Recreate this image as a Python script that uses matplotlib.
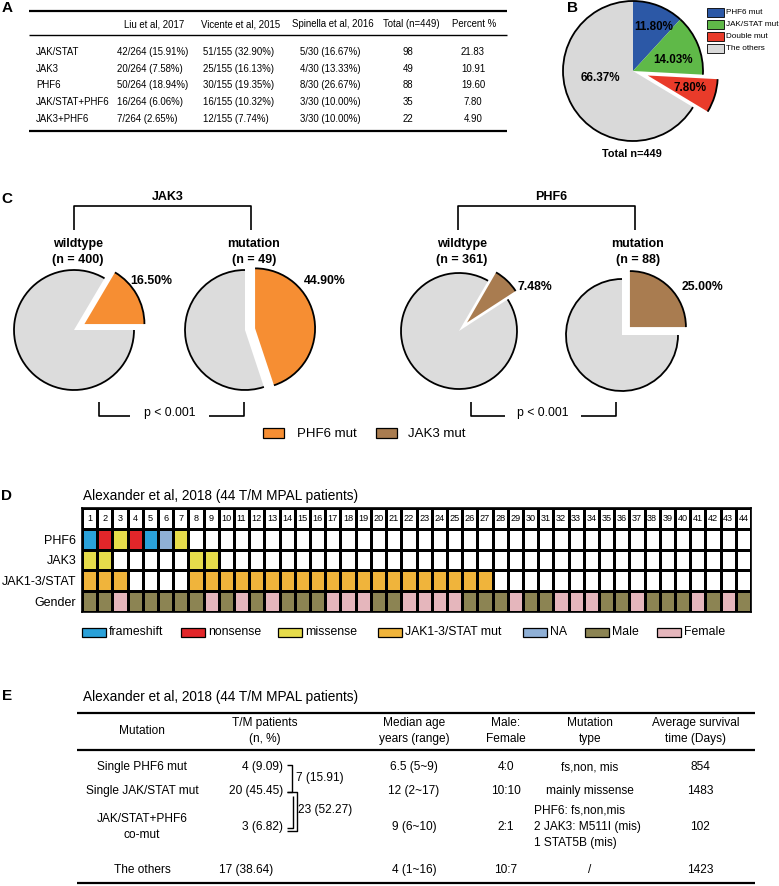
import numpy as np
import matplotlib.pyplot as plt
from matplotlib.patches import Rectangle, Arc
from matplotlib.colors import ListedColormap

plt.rcParams['font.family'] = ['Liberation Sans', 'DejaVu Sans']

# ---- data ----
# panel A
a_studies = ['Liu et al, 2017', 'Vicente et al, 2015', 'Spinella et al, 2016']
a_study_n = [264, 155, 30]
a_rows = ['JAK/STAT', 'JAK3', 'PHF6', 'JAK/STAT+PHF6', 'JAK3+PHF6']
liu = [42, 20, 50, 16, 7]
vicente = [51, 25, 30, 16, 12]
spinella = [5, 4, 8, 3, 3]
a_total_n = 449

# panel B
b_labels = ['PHF6 mut', 'JAK/STAT mut', 'Double mut', 'The others']
b_values = [11.80, 14.03, 7.80, 66.37]
b_colors = ['#2c58a6', '#5fb948', '#e93b2a', '#d9d9d9']

# panel C
c_groups = ['JAK3', 'PHF6']
c_n_wt = [400, 361]
c_n_mut = [49, 88]
c_pct_wt = [16.50, 7.48]
c_pct_mut = [44.90, 25.00]
c_colors = ['#f68e33', '#a97c50']
c_legend = ['PHF6 mut', 'JAK3 mut']
c_pvalue = 'p < 0.001'

# panel D
n_pat = 44
phf6_mut = {1: 'frameshift', 2: 'nonsense', 3: 'missense', 4: 'nonsense',
            5: 'frameshift', 6: 'NA', 7: 'missense'}
jak3_mut = {1: 'missense', 2: 'missense', 8: 'missense', 9: 'missense'}
jakstat_mut = [1, 2, 3, 8, 9, 10, 11, 12, 13, 14, 15, 16, 17, 18, 19, 20,
               21, 22, 23, 24, 25, 26, 27]
gender = 'MMFMMMMMFMFMFMMMFFFMMFFFFMMMFMMFFFMMFMMMFMFM'
d_cats = ['none', 'frameshift', 'nonsense', 'missense', 'JAK1-3/STAT mut',
          'NA', 'Male', 'Female']
d_colors = ['white', '#2aa1d9', '#e2262a', '#e6dc4b', '#f0b43b',
            '#8fb0d6', '#8c8453', '#e5b6bc']
d_rowlabels = ['PHF6', 'JAK3', 'JAK1-3/STAT', 'Gender']

# panel E
e_title = 'Alexander et al, 2018 (44 T/M MPAL patients)'
e_mutation = ['Single PHF6 mut', 'Single JAK/STAT mut', 'JAK/STAT+PHF6\nco-mut', 'The others']
e_patients = ['4 (9.09)', '20 (45.45)', '3 (6.82)', '17 (38.64)']
e_age = ['6.5 (5~9)', '12 (2~17)', '9 (6~10)', '4 (1~16)']
e_sex = ['4:0', '10:10', '2:1', '10:7']
e_type = ['fs,non, mis', 'mainly missense',
          'PHF6: fs,non,mis\n2 JAK3: M511I (mis)\n1 STAT5B (mis)', '/']
e_survival = ['854', '1483', '102', '1423']
e_groups = ['7 (15.91)', '23 (52.27)']

W, H = 779, 886
fig = plt.figure(figsize=(W / 100, H / 100), dpi=100)
ax = fig.add_axes([0, 0, 1, 1])
ax.set_xlim(0, W)
ax.set_ylim(H, 0)
ax.axis('off')


def line(xs, ys, lw=1.0):
    ax.plot(xs, ys, color='black', lw=lw, solid_capstyle='butt')


def pie_axes(cx, cy, r, pad=1.7):
    s = r * pad
    pa = fig.add_axes([(cx - s) / W, 1 - (cy + s) / H, 2 * s / W, 2 * s / H])
    return pa, pad


def outlined_pie(pa, pad, values, colors, **kw):
    wedges, _ = pa.pie(values, colors=colors, radius=1,
                       wedgeprops=dict(linewidth=0), **kw)
    for w in wedges:
        pa.add_patch(Arc(w.center, 2 * w.r, 2 * w.r, theta1=w.theta1,
                         theta2=w.theta2, color='black', lw=1.3))
    pa.set_xlim(-pad, pad)
    pa.set_ylim(-pad, pad)
    pa.axis('off')


# panel letters
for lab, x, y in [('A', 7, 8), ('B', 573, 8), ('C', 7, 199), ('D', 7, 496), ('E', 7, 696)]:
    ax.text(x, y, lab, fontsize=11, fontweight='bold', va='center', ha='center')

# ---- A: table ----
fs_a = 6.9
line([29, 507], [11, 11], 1.6)
line([29, 507], [35, 35], 1.0)
line([29, 507], [131, 131], 1.6)
heads = a_studies + ['Total (n=%d)' % a_total_n, 'Percent %']
for h, x in zip(heads, [154, 241, 333, 411, 474]):
    ax.text(x, 24, h, fontsize=fs_a, ha='center', va='center')
for i, name in enumerate(a_rows):
    y = 52 + i * 16.7
    ax.text(36, y, name, fontsize=fs_a, va='center')
    for vals, n, x in zip([liu, vicente, spinella], a_study_n, [117, 203, 300]):
        ax.text(x, y, '%d/%d (%.2f%%)' % (vals[i], n, vals[i] / n * 100),
                fontsize=fs_a, va='center')
    tot = liu[i] + vicente[i] + spinella[i]
    ax.text(408, y, str(tot), fontsize=fs_a, ha='center', va='center')
    ax.text(473, y, '%.2f' % (tot / a_total_n * 100), fontsize=fs_a, ha='center', va='center')

# ---- B: pie ----
pb, pad = pie_axes(633, 71, 70)
outlined_pie(pb, pad, b_values, b_colors, startangle=90, counterclock=False,
             explode=[0, 0, 0.22, 0])
for v, (tx, ty) in zip(b_values, [(0.30, 0.63), (0.57, 0.16), (0.81, -0.24), (-0.47, -0.10)]):
    pb.text(tx, ty, '%.2f%%' % v, fontsize=8.4, fontweight='bold', ha='center', va='center')
ax.text(632, 154, 'Total n=%d' % a_total_n, fontsize=7.8, fontweight='bold',
        ha='center', va='center')
for i, (lab, col) in enumerate(zip(b_labels, b_colors)):
    y = 12 + i * 12.3
    ax.add_patch(Rectangle((707, y - 4.5), 17, 9, facecolor=col, edgecolor='black', lw=0.6))
    ax.text(726, y, lab, fontsize=5.9, va='center')

# ---- C: pies ----
gray = '#dcdcdc'
c_geo = [  # (cx, cy, r) per pie: wildtype, mutation
    [(74, 330, 60), (245, 330, 60)],
    [(459, 331, 58), (622, 335, 56)],
]
c_bracket = [(74, 251), (458, 635)]
c_pbr = [(99, 130, 209, 244), (471, 505, 581, 616)]
c_start = [(0, 90), (33, 0)]
c_ccw = [(True, False), (True, True)]
c_explode = [(0.2, 0.17), (0.2, 0.2)]
c_lab_off = [[(1.28, 0.82), (1.33, 0.82)], [(1.31, 0.76), (1.43, 0.86)]]
for g in range(2):
    x0, x1 = c_bracket[g]
    line([x0, x0, x1, x1], [230, 206, 206, 230], 1.2)
    ax.text((x0 + x1) / 2 + 5, 197, c_groups[g], fontsize=9, fontweight='bold',
            ha='center', va='center')
    pcts = [c_pct_wt[g], c_pct_mut[g]]
    ns = [c_n_wt[g], c_n_mut[g]]
    for k, title in enumerate(['wildtype', 'mutation']):
        cx, cy, r = c_geo[g][k]
        lx = [x0 + 4, x1 + 3][k]
        ax.text(lx, 244, title, fontsize=9, fontweight='bold', ha='center', va='center')
        ax.text(lx, 260, '(n = %d)' % ns[k], fontsize=9, fontweight='bold',
                ha='center', va='center')
        pa, pad = pie_axes(cx, cy, r)
        outlined_pie(pa, pad, [pcts[k], 100 - pcts[k]], [c_colors[g], gray],
                     startangle=c_start[g][k], counterclock=c_ccw[g][k],
                     explode=[c_explode[g][k], 0])
        tx, ty = c_lab_off[g][k]
        pa.text(tx, ty, '%.2f%%' % pcts[k], fontsize=8.8, fontweight='bold',
                ha='center', va='center')
    a, b, c, d = c_pbr[g]
    line([a, a, b], [402, 416, 416], 1.2)
    line([c, d, d], [416, 416, 402], 1.2)
    ax.text((b + c) / 2, 413, c_pvalue, fontsize=8.8, ha='center', va='center')
for (bx, tx), lab, col in zip([(263, 297), (376, 408)], c_legend, c_colors):
    ax.add_patch(Rectangle((bx, 428), 21, 10, facecolor=col, edgecolor='black', lw=0.9))
    ax.text(tx, 433.5, lab, fontsize=9.5, va='center')

# ---- D: mutation grid ----
ax.text(83, 496, e_title, fontsize=9.8, va='center')
grid = np.zeros((5, n_pat), dtype=int)
for p, m in phf6_mut.items():
    grid[1, p - 1] = d_cats.index(m)
for p, m in jak3_mut.items():
    grid[2, p - 1] = d_cats.index(m)
for p in jakstat_mut:
    grid[3, p - 1] = d_cats.index('JAK1-3/STAT mut')
for p, s in enumerate(gender):
    grid[4, p] = d_cats.index('Male' if s == 'M' else 'Female')
gx0, gy0, gx1, gy1 = 82, 508, 751, 612
axd = fig.add_axes([gx0 / W, 1 - gy1 / H, (gx1 - gx0) / W, (gy1 - gy0) / H])
axd.pcolormesh(np.arange(n_pat + 1), np.arange(6), grid, cmap=ListedColormap(d_colors),
               vmin=-0.5, vmax=len(d_colors) - 0.5, edgecolors='black', linewidth=0.9)
axd.set_xlim(0, n_pat)
axd.set_ylim(5, 0)
for i in range(n_pat):
    axd.text(i + 0.5, 0.5, str(i + 1), fontsize=6.6, ha='center', va='center')
axd.set_xticks([])
axd.set_yticks(np.arange(1, 5) + 0.5, d_rowlabels)
axd.tick_params(axis='y', length=0, pad=4, labelsize=9)
for s in axd.spines.values():
    s.set_linewidth(1.2)

leg_x = [82, 181, 278, 378, 523, 585, 657]
for lab, col, x in zip(d_cats[1:], d_colors[1:], leg_x):
    ax.add_patch(Rectangle((x, 627.5), 24, 9, facecolor=col, edgecolor='black', lw=0.9))
    ax.text(x + 27, 632, lab, fontsize=8.8, va='center')

# ---- E: summary table ----
fs_e = 8.6
ax.text(83, 697, e_title, fontsize=9.8, va='center')
line([77, 755], [713, 713], 1.6)
line([77, 755], [750, 750], 1.6)
line([77, 755], [883, 883], 1.6)
e_heads = [('Mutation', 142), ('T/M patients\n(n, %)', 265), ('Median age\nyears (range)', 414),
           ('Male:\nFemale', 506), ('Mutation\ntype', 590), ('Average survival\ntime (Days)', 696)]
for h, x in e_heads:
    ax.text(x, 731, h, fontsize=fs_e, ha='center', va='center', linespacing=1.45)
row_y = [767, 791, 827, 870]
for i in range(4):
    y = row_y[i]
    ax.text(142, y, e_mutation[i], fontsize=fs_e, ha='center', va='center', linespacing=1.5)
    ax.text(283 if i < 3 else 273, y, e_patients[i], fontsize=fs_e, ha='right', va='center')
    ax.text(414, y, e_age[i], fontsize=fs_e, ha='center', va='center')
    ax.text(506, y, e_sex[i], fontsize=fs_e, ha='center', va='center')
    if '\n' in e_type[i]:
        ax.text(534, y, e_type[i], fontsize=fs_e, ha='left', va='center', linespacing=1.45)
    else:
        ax.text(590, y, e_type[i], fontsize=fs_e, ha='center', va='center')
    ax.text(700, y, e_survival[i], fontsize=fs_e, ha='center', va='center')
# brackets grouping patients
line([287, 292, 292, 287], [765, 765, 792, 792], 1.0)
ax.text(296, 778, e_groups[0], fontsize=fs_e, va='center')
line([287, 297, 297, 287], [792, 792, 831, 831], 1.0)
line([293, 293, 287], [796, 828, 828], 1.0)
ax.text(298, 810, e_groups[1], fontsize=fs_e, va='center')

fig.savefig('out.png', dpi=100)
